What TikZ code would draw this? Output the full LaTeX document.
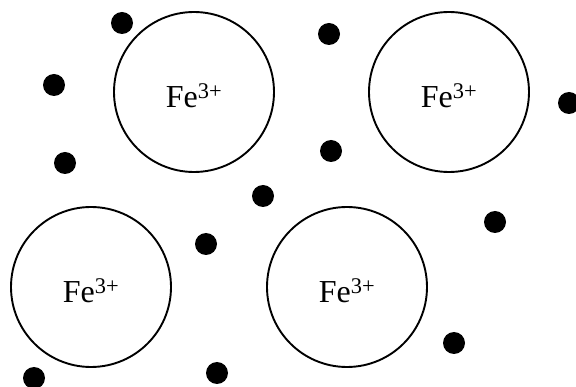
\documentclass[tikz,border=0pt]{standalone}
\usepackage{fontspec}
\setmainfont{Liberation Serif}
\begin{document}
\begin{tikzpicture}[x=1pt,y=-1pt,
  ion/.style={circle,draw=black,line width=1.9pt,minimum size=160pt,inner sep=0pt},
  ionlabel/.style={inner sep=0pt,font=\fontsize{32}{36}\selectfont},
  ligand/.style={circle,fill=black,minimum size=22pt,inner sep=0pt}]
\useasboundingbox (0,0) rectangle (576,387);
\node[ion] (c1) at (194,92) {};
\node[ion] (c2) at (449,92) {};
\node[ion] (c3) at (91,287) {};
\node[ion] (c4) at (347,287) {};
\node[ionlabel] (t1) at ([yshift=-4pt]c1.center) {Fe\textsuperscript{3+}};
\node[ionlabel] (t2) at ([yshift=-4pt]c2.center) {Fe\textsuperscript{3+}};
\node[ionlabel] (t3) at ([yshift=-4pt]c3.center) {Fe\textsuperscript{3+}};
\node[ionlabel] (t4) at ([yshift=-4pt]c4.center) {Fe\textsuperscript{3+}};
\node[ligand] (d1) at (122,23) {};
\node[ligand] (d2) at (54,85) {};
\node[ligand] (d3) at (65,163) {};
\node[ligand] (d4) at (329,34) {};
\node[ligand] (d5) at (331,151) {};
\node[ligand] (d6) at (569,103) {};
\node[ligand] (d7) at (263,196) {};
\node[ligand] (d8) at (206,244) {};
\node[ligand] (d9) at (217,373) {};
\node[ligand] (d10) at (34,378) {};
\node[ligand] (d11) at (495,222) {};
\node[ligand] (d12) at (454,343) {};
\end{tikzpicture}
\end{document}
